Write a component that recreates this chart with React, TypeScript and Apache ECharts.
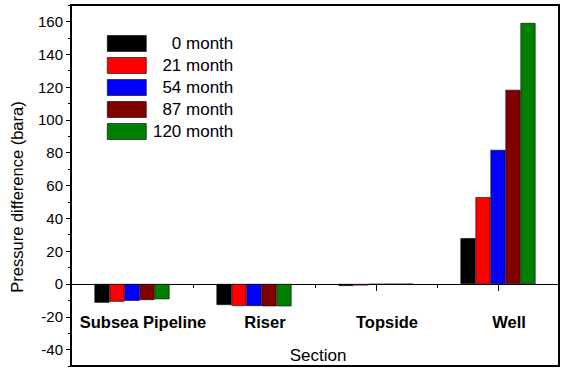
import React, { useEffect, useRef } from "react";
import * as echarts from "echarts";

const categories = ["Subsea Pipeline", "Riser", "Topside", "Well"];
const seriesNames = ["0 month", "21 month", "54 month", "87 month", "120 month"];
const month0 = [-11.4, -12.8, -1.2, 27.9];
const month21 = [-10.8, -13.4, -0.9, 52.9];
const month54 = [-10.2, -13.4, -0.3, 81.7];
const month87 = [-9.8, -13.6, -0.2, 118.3];
const month120 = [-9.3, -13.6, -0.2, 159];
const seriesColors = ["#000000", "#ff0000", "#0000ff", "#800000", "#008000"];
const yMajorTicks = { min: -40, max: 160, interval: 20 };
const yRange = { min: -50, max: 170, interval: 10 };

const FONT = "'Liberation Sans', Arial, sans-serif";

export default function App() {
  const ref = useRef<HTMLDivElement>(null);
  useEffect(() => {
    if (!ref.current) return;
    const chart = echarts.init(ref.current, null, { renderer: "svg" });
    const gridTop = 5;
    const gridBottom = 10;
    const plotH = 376 - gridTop - gridBottom;
    const pxPerUnit = plotH / (yRange.max - yRange.min);
    const g2Top = gridTop + (yRange.max - yMajorTicks.max) * pxPerUnit;
    const g2Bottom = gridBottom + (yMajorTicks.min - yRange.min) * pxPerUnit;
    // place the category axis line on the zero value (labels follow the line)
    const zeroOffset = -(0 - yRange.min) * pxPerUnit;
    const data = [month0, month21, month54, month87, month120];
    chart.setOption({
      animation: false,
      grid: [
        { left: 71, right: 11, top: gridTop, bottom: gridBottom, show: true, borderColor: "#000", borderWidth: 2, backgroundColor: "transparent", outerBoundsMode: "none", containLabel: false },
        { left: 71, right: 11, top: g2Top, bottom: g2Bottom, show: false, outerBoundsMode: "none", containLabel: false },
      ],
      legend: {
        orient: "vertical",
        left: 107,
        top: 35,
        padding: 0,
        icon: "rect",
        itemWidth: 39,
        itemHeight: 16,
        itemGap: 5,
        data: seriesNames,
        itemStyle: { borderColor: "#000", borderWidth: 0.6 },
        formatter: (name: string) => `{a|${name}}`,
        textStyle: {
          rich: {
            a: { width: 82, align: "right", fontSize: 17, lineHeight: 16, fontFamily: FONT, color: "#000" },
          },
        },
      },
      xAxis: [
        {
          type: "category",
          data: categories,
          gridIndex: 0,
          position: "bottom",
          offset: zeroOffset,
          axisLine: { onZero: false, lineStyle: { color: "#000", width: 1 } },
          axisTick: { show: true, length: 4, lineStyle: { color: "#000" } },
          axisLabel: { interval: 0, margin: 30, padding: [0, 0, 0, 22], fontSize: 16.5, fontWeight: "bold", fontFamily: FONT, color: "#000", hideOverlap: false },
          splitLine: { show: false },
        },
        {
          type: "category",
          data: categories,
          gridIndex: 0,
          position: "bottom",
          offset: zeroOffset,
          axisLine: { show: false, onZero: false },
          axisTick: { show: true, alignWithLabel: true, interval: 0, length: 7, lineStyle: { color: "#000" } },
          axisLabel: { show: false },
          splitLine: { show: false },
        },
        { type: "value", gridIndex: 1, show: false, min: 0, max: 1 },
      ],
      yAxis: [
        {
          type: "value",
          gridIndex: 0,
          min: yRange.min,
          max: yRange.max,
          interval: yRange.interval,
          axisLine: { show: true, onZero: false, lineStyle: { color: "#000", width: 2 } },
          axisTick: { show: true, length: 3, lineStyle: { color: "#000" } },
          axisLabel: { show: false },
          splitLine: { show: false },
        },
        {
          type: "value",
          gridIndex: 1,
          min: yMajorTicks.min,
          max: yMajorTicks.max,
          interval: yMajorTicks.interval,
          axisLine: { show: false, onZero: false },
          axisTick: { show: true, length: 5, lineStyle: { color: "#000" } },
          axisLabel: { margin: 8, fontSize: 15, fontFamily: FONT, color: "#000" },
          splitLine: { show: false },
        },
      ],
      series: seriesNames.map((name, i) => ({
        name,
        type: "bar",
        xAxisIndex: 0,
        yAxisIndex: 0,
        data: data[i],
        barWidth: 15,
        barGap: "0%",
        itemStyle: { color: seriesColors[i], borderColor: "#000", borderWidth: 0.6 },
      })),
      graphic: [
        {
          type: "text",
          x: 17,
          y: 197,
          rotation: Math.PI / 2,
          style: { text: "Pressure difference (bara)", fontSize: 16.5, fontFamily: FONT, fill: "#000", align: "center", verticalAlign: "middle" },
        },
        {
          type: "text",
          x: 318,
          y: 355,
          style: { text: "Section", fontSize: 17, fontFamily: FONT, fill: "#000", align: "center", verticalAlign: "middle" },
        },
      ],
    });
    return () => chart.dispose();
  }, []);
  return <div ref={ref} style={{ position: "fixed", left: 0, top: 0, width: 570, height: 376, background: "#fff" }} />;
}
